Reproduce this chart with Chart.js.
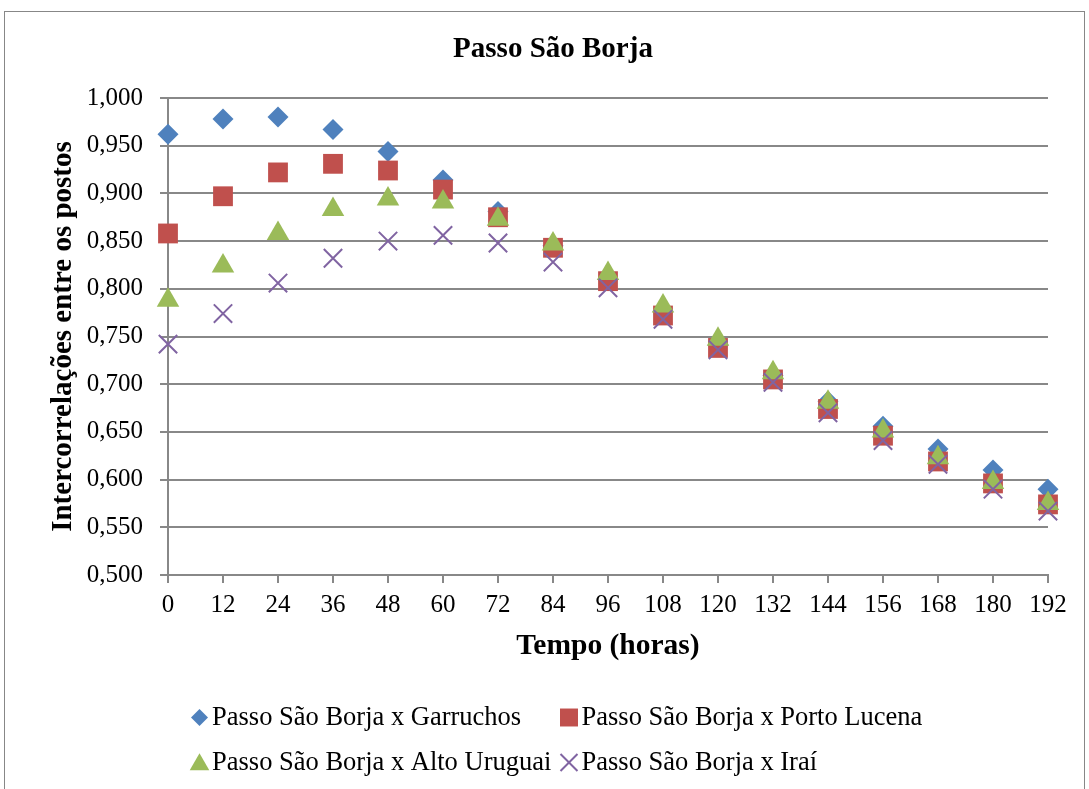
<!DOCTYPE html>
<html>
<head>
<meta charset="utf-8">
<script src="https://cdn.jsdelivr.net/npm/chart.js@4/dist/chart.umd.min.js"></script>
<style>
  html, body { margin: 0; padding: 0; background: #fff; overflow: hidden; }
  #wrap { width: 1089px; height: 789px; }
</style>
</head>
<body>
<div id="wrap"><canvas id="chart" width="1089" height="789"></canvas></div>
<script>
// dados
const hours = [0, 12, 24, 36, 48, 60, 72, 84, 96, 108, 120, 132, 144, 156, 168, 180, 192];
const garruchos   = [0.962, 0.978, 0.980, 0.967, 0.944, 0.914, 0.881, 0.845, 0.810, 0.776, 0.741, 0.709, 0.682, 0.656, 0.632, 0.610, 0.590];
const portoLucena = [0.858, 0.897, 0.922, 0.931, 0.924, 0.904, 0.875, 0.843, 0.808, 0.772, 0.738, 0.705, 0.674, 0.646, 0.619, 0.596, 0.574];
const altoUruguai = [0.788, 0.824, 0.858, 0.883, 0.894, 0.891, 0.873, 0.847, 0.816, 0.782, 0.747, 0.712, 0.681, 0.651, 0.623, 0.597, 0.575];
const irai        = [0.742, 0.774, 0.806, 0.832, 0.850, 0.856, 0.848, 0.828, 0.801, 0.768, 0.736, 0.702, 0.670, 0.641, 0.616, 0.590, 0.567];
const seriesNames = [
    'Passo São Borja x Garruchos',
    'Passo São Borja x Porto Lucena',
    'Passo São Borja x Alto Uruguai',
    'Passo São Borja x Iraí'
];
const chartTitle = 'Passo São Borja';

const FONT = "'Liberation Serif', 'Times New Roman', serif";
const GRID = '#888888';

function pts(ys) {
    return ys.map((y, i) => ({ x: hours[i], y: y }));
}

// borda externa, fundo e título (centrado como no Excel)
const frame = {
    id: 'frame',
    beforeDraw(chart) {
        const ctx = chart.ctx;
        ctx.save();
        ctx.fillStyle = '#fff';
        ctx.fillRect(0, 0, chart.width, chart.height);
        ctx.strokeStyle = '#878787';
        ctx.lineWidth = 1;
        ctx.strokeRect(4.5, 11.5, 1080, 800);
        ctx.fillStyle = '#000';
        ctx.font = 'bold 29px ' + FONT;
        ctx.textAlign = 'center';
        ctx.textBaseline = 'middle';
        ctx.fillText(chartTitle, 553, 50);
        ctx.restore();
    }
};

// legenda em duas colunas
const legendGrid = {
    id: 'legendGrid',
    afterDraw(chart) {
        const ctx = chart.ctx;
        const cols = [199.5, 569];
        const rows = [717.5, 762.5];
        const sizes = [8.5, 12.7, 11.3, 12];
        ctx.save();
        ctx.font = '26.5px ' + FONT;
        ctx.textBaseline = 'middle';
        chart.data.datasets.forEach((ds, i) => {
            const cx = cols[i % 2];
            const cy = rows[Math.floor(i / 2)];
            const opts = {
                pointStyle: ds.pointStyle,
                radius: sizes[i],
                borderWidth: ds.pointStyle === 'crossRot' ? 2 : 0,
                rotation: 0
            };
            ctx.fillStyle = ds.backgroundColor;
            ctx.strokeStyle = ds.borderColor;
            ctx.lineWidth = opts.borderWidth || 1;
            Chart.helpers.drawPoint(ctx, opts, cx, ds.pointStyle === 'triangle' ? cy + 2 : cy);
            ctx.fillStyle = '#000';
            ctx.fillText(ds.label, cx + 12.5, cy + 1);
        });
        ctx.restore();
    }
};

new Chart(document.getElementById('chart'), {
    type: 'scatter',
    data: {
        datasets: [
            {
                label: seriesNames[0],
                data: pts(garruchos),
                pointStyle: 'rectRot',
                pointRadius: 10.5,
                backgroundColor: '#4F81BD',
                borderColor: '#4F81BD',
                borderWidth: 0,
                clip: false,
                order: 4
            },
            {
                label: seriesNames[1],
                data: pts(portoLucena),
                pointStyle: 'rect',
                pointRadius: 14,
                backgroundColor: '#C0504D',
                borderColor: '#C0504D',
                borderWidth: 0,
                clip: false,
                order: 3
            },
            {
                label: seriesNames[2],
                data: pts(altoUruguai),
                pointStyle: 'triangle',
                pointRadius: 13,
                backgroundColor: '#9BBB59',
                borderColor: '#9BBB59',
                borderWidth: 0,
                clip: false,
                order: 2
            },
            {
                label: seriesNames[3],
                data: pts(irai),
                pointStyle: 'crossRot',
                pointRadius: 13,
                backgroundColor: '#8064A2',
                borderColor: '#8064A2',
                borderWidth: 2,
                clip: false,
                order: 1
            }
        ]
    },
    options: {
        responsive: false,
        animation: false,
        events: [],
        layout: { padding: { left: 0, right: 41, top: 98, bottom: 124 } },
        plugins: {
            legend: { display: false },
            tooltip: { enabled: false },
            title: { display: false }
        },
        scales: {
            x: {
                type: 'linear',
                min: 0,
                max: 192,
                afterFit: s => { s.height = 90; },
                ticks: {
                    stepSize: 12,
                    color: '#000',
                    font: { family: FONT, size: 25 },
                    padding: 7,
                    maxRotation: 0
                },
                grid: {
                    drawOnChartArea: false,
                    drawTicks: true,
                    tickLength: 8,
                    color: GRID,
                    lineWidth: 2
                },
                border: { color: GRID, width: 2 },
                title: {
                    display: true,
                    text: 'Tempo (horas)',
                    color: '#000',
                    font: { family: FONT, size: 29.5, weight: 'bold' },
                    padding: { top: 0, bottom: 1 }
                }
            },
            y: {
                min: 0.5,
                max: 1.0,
                afterFit: s => { s.width = 168; },
                ticks: {
                    stepSize: 0.05,
                    color: '#000',
                    font: { family: FONT, size: 25 },
                    padding: 17,
                    callback: v => v.toFixed(3).replace('.', ',')
                },
                grid: {
                    drawTicks: true,
                    tickLength: 8,
                    color: GRID,
                    lineWidth: 2
                },
                border: { color: GRID, width: 2 },
                title: {
                    display: true,
                    text: 'Intercorrelações entre os postos',
                    color: '#000',
                    font: { family: FONT, size: 29, weight: 'bold' },
                    padding: { top: 46, bottom: 0 }
                }
            }
        }
    },
    plugins: [frame, legendGrid]
});
</script>
</body>
</html>
